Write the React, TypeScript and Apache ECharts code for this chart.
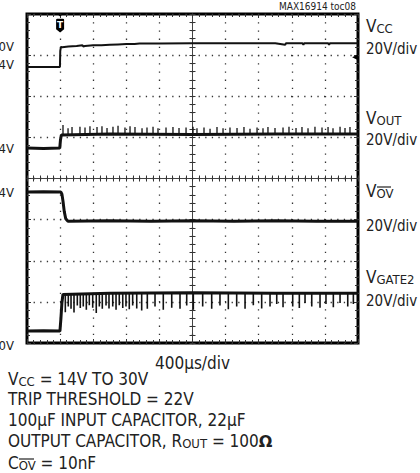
import React, { useEffect, useRef } from "react";
import * as echarts from "echarts";

const W = 420;
const H = 473;
const FONT = '"Liberation Sans Narrow", "DejaVu Sans Condensed", "Arial Narrow", sans-serif';
const INK = "#111";
const TXT = "#222";

// Time axis (µs): 400 µs per division, 10 divisions
const TIME_MIN = -2000;
const TIME_MAX = 2000;
const TIME_STEP = 400;
// Screen divisions: 8 vertical divisions, centred on 0
const DIV_MIN = -4;
const DIV_MAX = 4;

const TIME_LABEL = "400µs/div";
const CHANNEL_SCALE = "20V/div";
const TOC_LABEL = "MAX16914 toc08";

// Left-edge level labels (as visible at the page edge)
const levelLabels = ["0V", "4V", "4V", "4V", "0V"];

// ---- traces, values in screen divisions ----
const vccTrace: number[][] = [
  [-2000, 2.71], [-1602, 2.71], [-1598, 3.1], [-1590, 3.2], [-1575, 3.19], [-1500, 3.21],
  [-1400, 3.22], [-1330, 3.24], [-1320, 3.21], [-1300, 3.22], [-1200, 3.24], [-1100, 3.24],
  [-1000, 3.25], [-900, 3.26], [-800, 3.27], [-700, 3.27], [-640, 3.28], [-400, 3.28],
  [0, 3.29], [500, 3.29], [1000, 3.29], [1120, 3.25], [1130, 3.29], [1330, 3.29],
  [1340, 3.25], [1350, 3.29], [1640, 3.29], [1650, 3.25], [1660, 3.29], [2000, 3.29],
];

const VOUT_LEVEL = 1.08;
const voutTrace: number[][] = [
  [-2000, 0.74], [-1800, 0.73], [-1604, 0.74], [-1596, 0.93], [-1585, 1.06],
  [-1000, 1.08], [0, 1.07], [1000, 1.08], [2000, 1.08],
];
// [time µs, spike height in divisions] (upward)
const voutSpikes: number[][] = [
  [-1565, 0.22], [-1504, 0.14], [-1456, 0.17], [-1360, 0.18], [-1299, 0.16], [-1239, 0.19],
  [-1154, 0.17], [-1094, 0.19], [-1033, 0.15], [-961, 0.18], [-900, 0.2], [-816, 0.16],
  [-755, 0.19], [-695, 0.17], [-610, 0.14], [-550, 0.16], [-477, 0.18], [-417, 0.14],
  [-320, 0.16], [-236, 0.17], [-163, 0.15], [-78, 0.16], [6, 0.18], [54, 0.14],
  [139, 0.16], [212, 0.13], [296, 0.17], [369, 0.14], [453, 0.16], [538, 0.15],
  [622, 0.17], [695, 0.13], [780, 0.16], [852, 0.14], [912, 0.17], [997, 0.15],
  [1094, 0.16], [1166, 0.18], [1251, 0.15], [1323, 0.17], [1396, 0.14], [1480, 0.18],
  [1565, 0.16], [1638, 0.17], [1698, 0.14], [1783, 0.18], [1843, 0.15], [1903, 0.17],
];

const vovTrace: number[][] = [
  [-2000, -0.33], [-1800, -0.32], [-1590, -0.33], [-1578, -0.38], [-1565, -0.55],
  [-1550, -0.8], [-1532, -0.98], [-1505, -1.04], [-1000, -1.03], [-500, -1.04],
  [0, -1.03], [500, -1.04], [1000, -1.03], [1500, -1.04], [2000, -1.04],
];

const GATE_LEVEL = -2.79;
const gateTrace: number[][] = [
  [-2000, -3.71], [-1800, -3.7], [-1602, -3.71], [-1590, -3.4], [-1578, -3.02], [-1566, -2.82],
  [-1000, -2.79], [0, -2.78], [1000, -2.79], [2000, -2.79],
];
// [time µs, spike depth in divisions] (downward)
const gateSpikes: number[][] = [
  [-1537, 0.46], [-1501, 0.32], [-1468, 0.38], [-1432, 0.47], [-1392, 0.3], [-1356, 0.36],
  [-1320, 0.32], [-1283, 0.4], [-1247, 0.29], [-1206, 0.35], [-1163, 0.48], [-1126, 0.32],
  [-1090, 0.38], [-1045, 0.3], [-1009, 0.37], [-964, 0.32], [-924, 0.4], [-885, 0.29],
  [-843, 0.36], [-804, 0.32], [-764, 0.39], [-723, 0.3], [-674, 0.37], [-614, 0.42],
  [-546, 0.38], [-453, 0.32], [-353, 0.4], [-251, 0.35], [-151, 0.38], [-70, 0.3],
  [10, 0.4], [123, 0.32], [232, 0.38], [332, 0.3], [433, 0.39], [534, 0.32],
  [635, 0.38], [735, 0.29], [836, 0.37], [937, 0.32], [1018, 0.26], [1094, 0.34],
  [1211, 0.32], [1291, 0.36], [1360, 0.24], [1441, 0.32], [1541, 0.35], [1613, 0.26],
  [1702, 0.34], [1783, 0.24], [1876, 0.32], [1944, 0.26],
];

// trigger marker and VCC ground marker, in data coordinates
const TRIGGER_TIME = -1600;
const TRIGGER_LEVEL = 3.77;
const VCC_GROUND = [1965, 2.95];

// spikes drawn as separate thin strokes, broken between spikes
function spikeData(level: number, spikes: number[][], dir: number): any[] {
  const out: any[] = [];
  for (const [t, h] of spikes) {
    out.push([t, level], [t, level + dir * h], [t, "-"]);
  }
  return out;
}

const lineSeries = (name: string, data: any[], width: number, extra: any = {}) => ({
  name,
  type: "line",
  data,
  xAxisIndex: 0,
  yAxisIndex: 0,
  showSymbol: false,
  symbol: "none",
  connectNulls: false,
  z: 5,
  lineStyle: { color: INK, width },
  ...extra,
});

const tickStyle = { color: "#333", width: 1 };

function xAxisDef(position: string, onZero: boolean, showLine: boolean, extra: any = {}) {
  return {
    type: "value",
    min: TIME_MIN,
    max: TIME_MAX,
    interval: TIME_STEP,
    position,
    axisLine: { show: showLine, onZero, lineStyle: { color: "#444", width: 1 } },
    axisTick: { show: true, inside: true, length: onZero ? 3 : 4, lineStyle: tickStyle },
    minorTick: { show: true, splitNumber: 5, length: 3, lineStyle: tickStyle },
    axisLabel: { show: false },
    splitLine: { show: false },
    ...extra,
  };
}

function yAxisDef(position: string, onZero: boolean, showLine: boolean, extra: any = {}) {
  return {
    type: "value",
    min: DIV_MIN,
    max: DIV_MAX,
    interval: 1,
    position,
    axisLine: { show: showLine, onZero, lineStyle: { color: "#444", width: 1 } },
    axisTick: { show: true, inside: true, length: onZero ? 3 : 4, lineStyle: tickStyle },
    minorTick: { show: true, splitNumber: 5, length: 3, lineStyle: tickStyle },
    axisLabel: { show: false },
    splitLine: { show: false },
    ...extra,
  };
}

const richBase = {
  m: { fontSize: 17, fontFamily: FONT, fill: TXT, lineHeight: 18 },
  s: { fontSize: 13, fontFamily: FONT, fill: TXT, lineHeight: 12, verticalAlign: "bottom" },
  b: { fontSize: 16, fontFamily: "DejaVu Sans", fontWeight: "bold", fill: TXT, lineHeight: 18 },
  n: { fontSize: 17, fontFamily: FONT, fill: TXT, lineHeight: 18 },
};

function txt(text: string, x: number, y: number, size: number, align = "left", rich = false): any {
  return {
    type: "text",
    silent: true,
    style: rich
      ? { text, x, y, textAlign: align, textVerticalAlign: "middle", rich: richBase, fill: TXT }
      : { text, x, y, textAlign: align, textVerticalAlign: "middle", fontSize: size, fontFamily: FONT, fill: TXT },
  };
}

function overline(x1: number, x2: number, y: number): any {
  return { type: "line", silent: true, shape: { x1, y1: y, x2, y2: y }, style: { stroke: TXT, lineWidth: 1.2 } };
}

export default function App() {
  const ref = useRef<HTMLDivElement>(null);
  useEffect(() => {
    if (!ref.current) return;
    const chart = echarts.init(ref.current, null, { renderer: "svg", width: W, height: H });
    const option: any = {
      animation: false,
      backgroundColor: "#fff",
      grid: { left: 27, right: 62, top: 14, bottom: 130, show: true, borderColor: "#000", borderWidth: 3, backgroundColor: "#fff" },
      xAxis: [
        xAxisDef("bottom", true, true, {
          splitLine: { show: true, lineStyle: { color: "#333", width: 1.3, type: [1.3, 6.9] } },
        }),
        xAxisDef("top", true, false),
        xAxisDef("bottom", false, false, {
          name: TIME_LABEL,
          nameLocation: "middle",
          nameGap: 11,
          nameTextStyle: { fontSize: 17, fontFamily: FONT, color: TXT },
        }),
        xAxisDef("top", false, false),
      ],
      yAxis: [
        yAxisDef("left", true, true, {
          splitLine: { show: true, lineStyle: { color: "#333", width: 1.3, type: [1.3, 5.3] } },
        }),
        yAxisDef("right", true, false),
        yAxisDef("left", false, false),
        yAxisDef("right", false, false),
      ],
      series: [
        lineSeries("VCC", vccTrace, 2, {
          markPoint: {
            silent: true,
            data: [
              {
                coord: [TRIGGER_TIME, TRIGGER_LEVEL],
                symbol: "path://M1.5 0H5.5L3.5 2Z M0 5Q0 4 1 4H6Q7 4 7 5V14L3.5 17L0 14Z",
                symbolSize: [8, 18],
                itemStyle: { color: "#000" },
                label: { show: true, formatter: "T", color: "#fff", fontSize: 9, fontWeight: "bold", fontFamily: "DejaVu Sans", offset: [0, 2] },
              },
              {
                coord: VCC_GROUND,
                symbol: "triangle",
                symbolRotate: 90,
                symbolSize: [6, 6],
                itemStyle: { color: "#000" },
                label: { show: false },
              },
            ],
          },
        }),
        lineSeries("VOUT", voutTrace, 3),
        lineSeries("VOUT spikes", spikeData(VOUT_LEVEL, voutSpikes, 1), 1.3),
        lineSeries("VOV", vovTrace, 3),
        lineSeries("VGATE2", gateTrace, 3),
        lineSeries("VGATE2 spikes", spikeData(GATE_LEVEL, gateSpikes, -1), 1.6),
      ],
      graphic: [
        txt(TOC_LABEL, 356, 6, 10, "right"),
        txt(levelLabels[0], 14, 46, 13, "right"),
        txt(levelLabels[1], 14, 64, 13, "right"),
        txt(levelLabels[2], 14, 148, 13, "right"),
        txt(levelLabels[3], 14, 192, 13, "right"),
        txt(levelLabels[4], 14, 345, 13, "right"),
        txt("{m|V}{s|CC}", 366, 26, 17, "left", true),
        txt(CHANNEL_SCALE, 366, 49, 15),
        txt("{m|V}{s|OUT}", 366, 118, 17, "left", true),
        txt(CHANNEL_SCALE, 366, 140, 15),
        txt("{m|V}{s|OV}", 366, 191, 17, "left", true),
        overline(377, 391, 187),
        txt(CHANNEL_SCALE, 366, 226, 15),
        txt("{m|V}{s|GATE2}", 366, 277, 17, "left", true),
        txt(CHANNEL_SCALE, 366, 301, 15),
        txt("{n|V}{s|CC}{n| = 14V TO 30V}", 8, 379, 17, "left", true),
        txt("TRIP THRESHOLD = 22V", 8, 399, 17),
        txt("100µF INPUT CAPACITOR, 22µF", 8, 420, 17),
        txt("{n|OUTPUT CAPACITOR, R}{s|OUT}{n| = 100}{b|Ω}", 8, 441, 17, "left", true),
        txt("{n|C}{s|OV}{n| = 10nF}", 8, 463, 17, "left", true),
        overline(19, 34, 459),
      ],
    };
    chart.setOption(option);
    return () => chart.dispose();
  }, []);
  return <div ref={ref} style={{ position: "absolute", left: 0, top: 0, width: W, height: H }} />;
}
